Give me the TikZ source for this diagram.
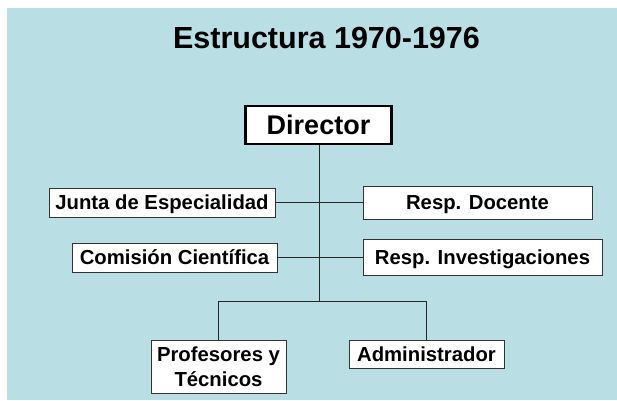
\documentclass[tikz,border=0pt]{standalone}
\usepackage{fontspec}
\setmainfont{Liberation Sans}
\definecolor{bgblue}{HTML}{B9DFE4}
\definecolor{boxline}{HTML}{333333}
\begin{document}
\begin{tikzpicture}[x=1pt,y=-1pt,
  unit/.style={draw=boxline,line width=0.8pt,fill=white,inner sep=0pt,
    font=\fontsize{20.3}{23}\selectfont\bfseries},
  capc/.style={text height=#1,text depth=0pt},
  conn/.style={draw=black!85,line width=0.9pt}]
\useasboundingbox (0,0) rectangle (617,400);
\fill[white] (0,0) rectangle (617,400);
\fill[bgblue] (7,8) rectangle (617,400);
\node[font=\fontsize{30.5}{35}\selectfont\bfseries,capc=21.8pt,inner sep=0pt] (title) at (326.5,37.5) {Estructura 1970-1976};
\node[draw=black,line width=2.6pt,fill=white,inner sep=0pt,minimum width=146pt,minimum height=38pt,
  font=\fontsize{27}{30}\selectfont\bfseries,capc=19.3pt] (dir) at (318.5,125) {Director};
\node[unit,capc=14.5pt,minimum width=226pt,minimum height=29pt] (junta) at (162,202.5) {Junta de Especialidad};
\node[unit,capc=14.5pt,minimum width=205pt,minimum height=29pt] (comi) at (174.5,257.5) {Comisión Científica};
\node[unit,capc=14.5pt,minimum width=229pt,minimum height=33pt] (doc) at (477.5,202.5) {Resp. Docente};
\node[unit,capc=14.5pt,minimum width=239pt,minimum height=36pt] (inv) at (482.5,257) {Resp. Investigaciones};
\node[unit,align=center,minimum width=135pt,minimum height=53pt,font=\fontsize{20.3}{25}\selectfont\bfseries] (prof) at (218.5,366.5) {Profesores y\\Técnicos};
\node[unit,capc=14.5pt,minimum width=155pt,minimum height=28pt] (adm) at (426.5,354) {Administrador};
\coordinate (bus) at (319,301.5);
\draw[conn] (dir.south -| bus) -- (bus);
\draw[conn] (junta.east) -- (doc.west |- junta.east);
\draw[conn] (comi.east) -- (inv.west |- comi.east);
\draw[conn] (prof.north) -- (prof.north |- bus) -- (adm.north |- bus) -- (adm.north);
\end{tikzpicture}
\end{document}
